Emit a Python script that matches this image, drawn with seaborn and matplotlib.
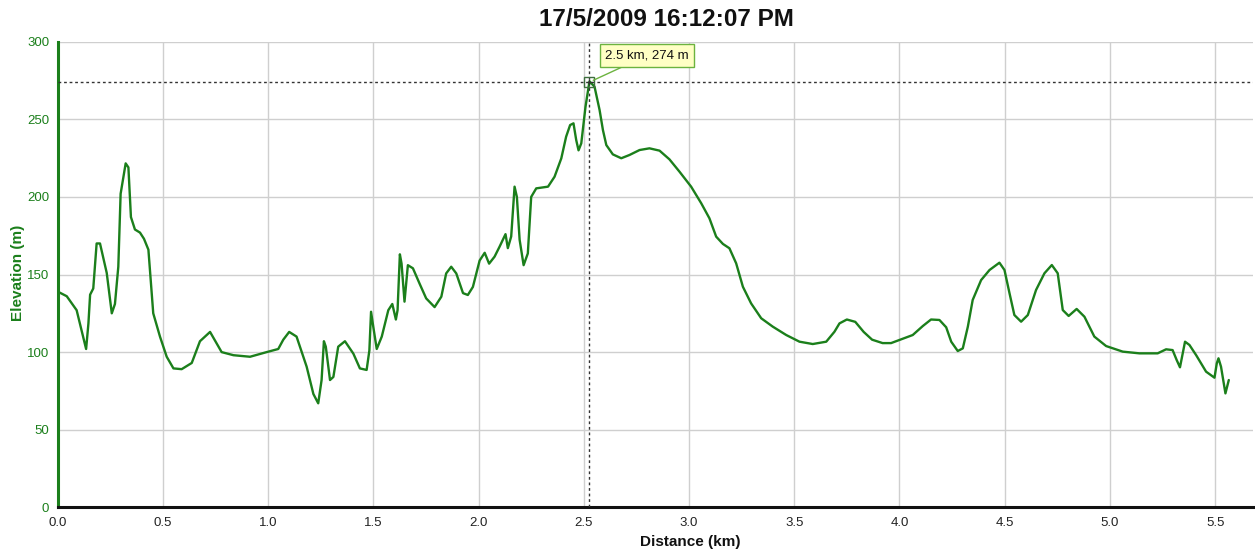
import matplotlib
matplotlib.use("Agg")
import matplotlib.pyplot as plt
import seaborn as sns
import pandas as pd

# ---- data ----
distance_km = [0, 0.043, 0.09, 0.135, 0.146, 0.154, 0.169, 0.185, 0.201, 0.233, 0.257, 0.272, 0.288,
               0.299, 0.323, 0.336, 0.348, 0.367, 0.391, 0.41, 0.431, 0.454, 0.486, 0.518, 0.55, 0.589,
               0.637, 0.676, 0.724, 0.779, 0.835, 0.914, 0.993, 1.048, 1.072, 1.1, 1.135, 1.183, 1.215,
               1.238, 1.254, 1.265, 1.274, 1.294, 1.31, 1.333, 1.365, 1.405, 1.436, 1.468, 1.481, 1.489,
               1.5, 1.516, 1.54, 1.571, 1.59, 1.607, 1.615, 1.626, 1.634, 1.648, 1.664, 1.688, 1.72,
               1.751, 1.791, 1.823, 1.846, 1.87, 1.894, 1.926, 1.949, 1.973, 2.005, 2.029, 2.05, 2.076,
               2.1, 2.128, 2.139, 2.155, 2.171, 2.182, 2.195, 2.214, 2.234, 2.25, 2.274, 2.33, 2.361,
               2.393, 2.416, 2.435, 2.451, 2.464, 2.475, 2.488, 2.508,
               2.527, 2.551, 2.575, 2.591, 2.607, 2.638, 2.678, 2.717, 2.765, 2.812, 2.86, 2.907,
               2.955, 3.01, 3.058, 3.097, 3.129, 3.161, 3.192, 3.224, 3.256, 3.295, 3.343, 3.398,
               3.462, 3.525, 3.588, 3.652, 3.691, 3.715, 3.75, 3.79, 3.83, 3.87, 3.92, 3.96,
               4.0, 4.063, 4.111, 4.15, 4.19, 4.222, 4.246, 4.277, 4.301, 4.325, 4.348, 4.388, 4.428,
               4.475, 4.499, 4.523, 4.546, 4.578, 4.61, 4.649, 4.689, 4.724, 4.752, 4.776, 4.804,
               4.842, 4.879, 4.926, 4.982, 5.061, 5.14,
               5.227, 5.267, 5.298, 5.317, 5.333, 5.346, 5.357, 5.378, 5.41, 5.457, 5.497, 5.508,
               5.516, 5.528, 5.549, 5.555, 5.565]
elevation_m = [139, 136, 127, 102, 118.5, 137, 141, 170, 170, 151, 125, 131, 155,
               202, 221.6, 219, 187, 179, 177, 173, 166, 125, 110, 97, 89.5, 89,
               93, 107, 113, 100, 98, 97, 100, 102, 108, 113, 110, 90.6, 73,
               67, 82, 107, 103.5, 82, 84, 103.5, 107, 99, 89.5, 88.5, 101, 126,
               116, 102, 110, 127, 131, 121, 127, 163, 157, 132.5, 156, 154, 144,
               134.6, 129, 135.7, 150.7, 155, 150.7, 138, 136.8, 142, 159, 164, 157, 161.5,
               168, 176, 167, 174.5, 206.6, 200, 172.4, 156, 163.6, 200, 205.5, 206.6, 213,
               224.8, 238.8, 246.3, 247.4, 236.6, 230, 234.5, 258,
               274.5, 271, 256, 243, 233.4, 227.4, 224.9, 227, 230.2, 231.3, 229.8, 224.2,
               216.2, 206.6, 195.9, 186.2, 174.4, 169.7, 166.9, 157.2, 142.1, 131.4, 121.8, 116.4,
               111, 106.7, 105.2, 106.7, 113.1, 118.5, 121, 119.5, 113, 108, 105.8, 105.8,
               107.8, 111, 116.8, 121, 120.7, 116, 106.7, 100.7, 102.4, 116.4, 133.6, 146.4, 152.9,
               157.6, 152.9, 137.9, 123.9, 119.6, 123.9, 140, 150.8, 156.1, 150.8, 127.1, 123.3,
               127.8, 122.8, 110, 103.9, 100.3, 99.2,
               99.2, 101.8, 101.3, 95, 90.2, 99.2, 106.7, 104.6, 98, 87.4, 83.5, 92.8,
               96, 90.6, 73.4, 76.6, 82]

cursor_km = 2.527
cursor_m = 274
cursor_label = "2.5 km, 274 m"
title_text = "17/5/2009 16:12:07 PM"
x_ticks = [0.0, 0.5, 1.0, 1.5, 2.0, 2.5, 3.0, 3.5, 4.0, 4.5, 5.0, 5.5]
y_ticks = [0, 50, 100, 150, 200, 250, 300]

df = pd.DataFrame({"Distance (km)": distance_km, "Elevation (m)": elevation_m})

sns.set_style("white")
plt.rcParams["font.family"] = ["Liberation Sans", "DejaVu Sans"]

GREEN = "#1b7f1b"
fig = plt.figure(figsize=(12.55, 5.54), dpi=100)
ax = fig.add_axes([57.7 / 1255, 46.7 / 554, (1253 - 57.7) / 1255, 465.6 / 554])

sns.lineplot(data=df, x="Distance (km)", y="Elevation (m)", ax=ax, color=GREEN,
             linewidth=1.7, sort=False, estimator=None, zorder=3)

ax.set_xlim(0, 5.68)
ax.set_ylim(0, 300)
ax.set_xticks(x_ticks)
ax.set_xticklabels([f"{t:.1f}" for t in x_ticks])
ax.set_yticks(y_ticks)
ax.grid(True, color="#cfcfcf", linewidth=1.0, zorder=0)
ax.set_axisbelow(True)

for s in ["top", "right"]:
    ax.spines[s].set_visible(False)
ax.spines["left"].set_color(GREEN)
ax.spines["left"].set_linewidth(2.2)
ax.spines["bottom"].set_color("#111111")
ax.spines["bottom"].set_linewidth(2.2)

ax.tick_params(axis="y", colors=GREEN, labelsize=9.5, length=4, width=1, direction="out", pad=2)
ax.tick_params(axis="x", colors="#222222", labelsize=9.5, length=4, width=1, direction="out", pad=3)
for lab in ax.get_yticklabels():
    lab.set_color(GREEN)

ax.set_xlabel("Distance (km)", fontsize=11, fontweight="bold", color="#111111")
ax.set_ylabel("Elevation (m)", fontsize=11, fontweight="bold", color=GREEN)
ax.xaxis.set_label_coords(0.529, -0.060)
ax.yaxis.set_label_coords(-0.027, 0.503)

# crosshair
ax.axhline(cursor_m, color="#333333", linestyle=(0, (2, 2)), linewidth=1, zorder=4)
ax.axvline(cursor_km, color="#333333", linestyle=(0, (2, 2)), linewidth=1, zorder=4)
ax.plot([cursor_km], [cursor_m], marker="s", ms=7, mfc="none", mec="#3f6f3f", mew=1, zorder=5)
ax.plot([cursor_km], [cursor_m], marker="+", ms=5, color="#333333", mew=0.8, zorder=5)
ax.annotate(cursor_label, xy=(cursor_km, cursor_m), xytext=(2.6, 291),
            fontsize=9.5, color="#111111", ha="left", va="center", zorder=6,
            bbox=dict(boxstyle="square,pad=0.4", fc="#ffffc4", ec="#6cb33f", lw=1),
            arrowprops=dict(arrowstyle="-", color="#6cb33f", lw=1, shrinkA=0, shrinkB=3))

fig.text(666 / 1255, 1 - 20 / 554, title_text, ha="center", va="center",
         fontsize=17.5, fontweight="bold", color="#111111")

fig.savefig("out.png", dpi=100, facecolor="white")
